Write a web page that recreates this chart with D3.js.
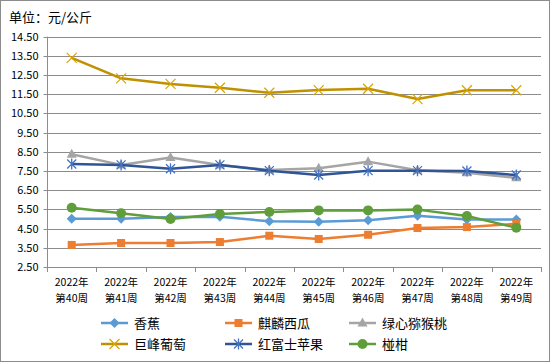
<!DOCTYPE html>
<html>
<head>
<meta charset="utf-8">
<script src="https://cdn.jsdelivr.net/npm/d3@7"></script>
<style>
  body { margin: 0; background: #fff; }
  text { font-family: "SimSun", "Noto Sans CJK SC", sans-serif; fill: #000; }
</style>
</head>
<body>
<div id="chart"></div>
<script>
// weeks on the x axis (two lines each)
var weeks = ["第40周", "第41周", "第42周", "第43周", "第44周", "第45周", "第46周", "第47周", "第48周", "第49周"];
var yearLabel = "2022年";
var yTicks = [2.5, 3.5, 4.5, 5.5, 6.5, 7.5, 8.5, 9.5, 10.5, 11.5, 12.5, 13.5, 14.5];

// prices (元/公斤)
var banana = [5.02, 5.02, 5.10, 5.12, 4.88, 4.86, 4.93, 5.17, 4.98, 4.98];
var watermelon = [3.65, 3.75, 3.75, 3.80, 4.13, 3.96, 4.18, 4.53, 4.58, 4.75];
var kiwi = [8.37, 7.82, 8.20, 7.82, 7.55, 7.64, 7.99, 7.54, 7.41, 7.15];
var grape = [13.40, 12.33, 12.04, 11.84, 11.58, 11.72, 11.79, 11.25, 11.71, 11.71];
var apple = [7.87, 7.82, 7.62, 7.82, 7.52, 7.29, 7.52, 7.52, 7.50, 7.29];
var tangerine = [5.59, 5.30, 5.00, 5.26, 5.37, 5.45, 5.45, 5.49, 5.16, 4.55];

var seriesNames = ["香蕉", "麒麟西瓜", "绿心猕猴桃", "巨峰葡萄", "红富士苹果", "椪柑"];

var width = 550, height = 362;
var svg = d3.select("#chart").append("svg").attr("width", width).attr("height", height);

//outer frame
svg.append("rect").attr("x", 0.5).attr("y", 0.5).attr("width", width - 1).attr("height", height - 1)
    .attr("fill", "#fff").attr("stroke", "#8c8c8c");

svg.append("text").attr("x", 9).attr("y", 22).attr("font-size", "13px").text("单位：元/公斤");

var x = d3.scaleBand().domain(weeks).range([47, 541]).padding(0);
var y = d3.scaleLinear().domain([2.5, 14.5]).range([267, 36.7]);
var cx = function(w) { return x(w) + x.bandwidth() / 2; };

//horizontal gridlines
svg.append("g").selectAll("line").data(yTicks.slice(1)).enter().append("line")
    .attr("x1", 47).attr("x2", 541)
    .attr("y1", function(d) { return Math.round(y(d)) + 0.5; })
    .attr("y2", function(d) { return Math.round(y(d)) + 0.5; })
    .attr("stroke", "#8c8c8c").attr("stroke-width", 1);

//y axis
var yAxis = svg.append("g").attr("transform", "translate(47.5,0)");
yAxis.append("line").attr("y1", y(14.5)).attr("y2", y(2.5)).attr("stroke", "#8c8c8c");
yAxis.selectAll("line.tick").data(yTicks).enter().append("line").attr("class", "tick")
    .attr("x1", -4).attr("x2", 0)
    .attr("y1", function(d) { return Math.round(y(d)) + 0.5; })
    .attr("y2", function(d) { return Math.round(y(d)) + 0.5; })
    .attr("stroke", "#8c8c8c");
yAxis.selectAll("text").data(yTicks).enter().append("text")
    .attr("x", -9).attr("y", function(d) { return y(d) + 4; })
    .attr("text-anchor", "end").attr("font-size", "11px")
    .text(function(d) { return d3.format(".2f")(d); });

//x axis
var xAxis = svg.append("g");
xAxis.append("line").attr("x1", 47).attr("x2", 541).attr("y1", 267.5).attr("y2", 267.5).attr("stroke", "#8c8c8c");
var bounds = weeks.map(function(w) { return x(w); }).concat([541]);
xAxis.selectAll("line.tick").data(bounds).enter().append("line").attr("class", "tick")
    .attr("x1", function(d) { return Math.round(d) + 0.5; })
    .attr("x2", function(d) { return Math.round(d) + 0.5; })
    .attr("y1", 267).attr("y2", 272).attr("stroke", "#8c8c8c");
//two separate text lines per category
xAxis.selectAll("text.year").data(weeks).enter().append("text").attr("class", "year")
    .attr("text-anchor", "middle").attr("font-size", "10.5px")
    .attr("x", cx).attr("y", 286).text(yearLabel);
xAxis.selectAll("text.week").data(weeks).enter().append("text").attr("class", "week")
    .attr("text-anchor", "middle").attr("font-size", "10.5px")
    .attr("x", cx).attr("y", 301.5).text(function(d) { return d; });

//series styles
var styles = [
    {line: "#5B9BD5", fill: "#5B9BD5", marker: "diamond"},
    {line: "#ED7D31", fill: "#ED7D31", marker: "square"},
    {line: "#A5A5A5", fill: "#A5A5A5", marker: "triangle"},
    {line: "#BF9000", fill: "#D9A400", marker: "x"},
    {line: "#2F5597", fill: "#4472C4", marker: "star"},
    {line: "#5F9E3A", fill: "#5F9E3A", marker: "circle"}
];
var allData = [banana, watermelon, kiwi, grape, apple, tangerine];

function drawMarker(g, type, color) {
    if (type == "diamond") {
        g.append("path").attr("d", "M0,-5L5,0L0,5L-5,0Z").attr("fill", color);
    } else if (type == "square") {
        g.append("rect").attr("x", -4).attr("y", -4).attr("width", 8).attr("height", 8).attr("fill", color);
    } else if (type == "triangle") {
        g.append("path").attr("d", "M0,-5.5L5,3.5L-5,3.5Z").attr("fill", color);
    } else if (type == "x") {
        g.append("path").attr("d", "M-5,-5L5,5M-5,5L5,-5").attr("stroke", color).attr("stroke-width", 1.2);
    } else if (type == "star") {
        g.append("path").attr("d", "M-4.5,-4.5L4.5,4.5M-4.5,4.5L4.5,-4.5M0,-5.5L0,5.5").attr("stroke", color).attr("stroke-width", 1.3);
    } else if (type == "circle") {
        g.append("circle").attr("r", 5).attr("fill", color);
    }
}

var line = d3.line().x(function(d, i) { return cx(weeks[i]); }).y(function(d) { return y(d); });

allData.forEach(function(vals, s) {
    var st = styles[s];
    var g = svg.append("g");
    g.append("path").datum(vals).attr("d", line).attr("fill", "none")
        .attr("stroke", st.line).attr("stroke-width", 2.5).attr("stroke-linejoin", "round");
    vals.forEach(function(v, i) {
        var m = g.append("g").attr("transform", "translate(" + cx(weeks[i]) + "," + y(v) + ")");
        drawMarker(m, st.marker, st.fill);
    });
});

//legend, three per row
var legend = svg.append("g");
seriesNames.forEach(function(name, s) {
    var st = styles[s];
    var lx = 101 + (s % 3) * 124;
    var ly = 323 + Math.floor(s / 3) * 21;
    var item = legend.append("g").attr("transform", "translate(" + lx + "," + ly + ")");
    item.append("line").attr("x1", 0).attr("x2", 27).attr("stroke", st.line).attr("stroke-width", 2.5);
    drawMarker(item.append("g").attr("transform", "translate(13.5,0)"), st.marker, st.fill);
    item.append("text").attr("x", 33).attr("y", 5).attr("font-size", "13px").text(name);
});
</script>
</body>
</html>
